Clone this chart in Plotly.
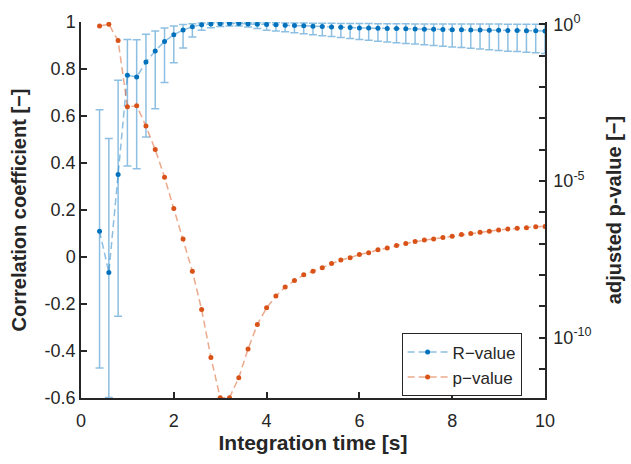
import numpy as np
import plotly.graph_objects as go

# Integration times [s]
t = [0.4, 0.6, 0.8, 1.0, 1.2, 1.4, 1.6, 1.8, 2.0, 2.2, 2.4, 2.6, 2.8, 3.0, 3.2, 3.4,
     3.6, 3.8, 4.0, 4.2, 4.4, 4.6, 4.8, 5.0, 5.2, 5.4, 5.6, 5.8, 6.0, 6.2, 6.4, 6.6,
     6.8, 7.0, 7.2, 7.4, 7.6, 7.8, 8.0, 8.2, 8.4, 8.6, 8.8, 9.0, 9.2, 9.4, 9.6, 9.8, 10.0]

# Correlation coefficient and its confidence bounds
r_value = [0.110, -0.066, 0.351, 0.773, 0.766, 0.830, 0.877, 0.917, 0.946, 0.966, 0.980,
           0.988, 0.991, 0.993, 0.994, 0.994, 0.992, 0.990, 0.989, 0.988, 0.986, 0.985,
           0.984, 0.982, 0.981, 0.979, 0.978, 0.977, 0.975, 0.974, 0.973, 0.972, 0.972,
           0.971, 0.970, 0.969, 0.969, 0.968, 0.967, 0.967, 0.966, 0.966, 0.965, 0.965,
           0.964, 0.964, 0.963, 0.963, 0.962]
r_upper = [0.627, 0.504, 0.752, 0.926, 0.925, 0.948, 0.962, 0.974, 0.983, 0.989, 0.993,
           0.996, 0.997, 0.998, 0.998, 0.998, 0.998, 0.997, 0.997, 0.997, 0.996, 0.996,
           0.996, 0.995, 0.995, 0.995, 0.994, 0.994, 0.994, 0.994, 0.993, 0.993, 0.993,
           0.993, 0.992, 0.992, 0.992, 0.992, 0.992, 0.991, 0.991, 0.991, 0.991, 0.991,
           0.990, 0.990, 0.990, 0.990, 0.990]
r_lower = [-0.472, -0.598, -0.252, 0.387, 0.376, 0.511, 0.631, 0.743, 0.827, 0.889, 0.936,
           0.965, 0.976, 0.981, 0.983, 0.983, 0.979, 0.972, 0.965, 0.962, 0.958, 0.954,
           0.950, 0.946, 0.942, 0.938, 0.934, 0.930, 0.926, 0.922, 0.918, 0.915, 0.912,
           0.909, 0.906, 0.903, 0.900, 0.897, 0.894, 0.891, 0.888, 0.885, 0.882, 0.879,
           0.876, 0.874, 0.871, 0.869, 0.866]

# Adjusted p-values
p_value = [0.88, 0.99, 0.30, 2.3e-3, 2.5e-3, 5.6e-4, 1.0e-4, 1.3e-5, 1.3e-6, 1.4e-7, 1.3e-8,
           7.8e-10, 2.3e-11, 1.2e-12, 1.2e-12, 5.2e-12, 4.3e-11, 2.6e-10, 8.9e-10, 2.1e-9,
           4.1e-9, 6.6e-9, 1.0e-8, 1.3e-8, 1.7e-8, 2.3e-8, 3.0e-8, 3.5e-8, 4.5e-8, 5.1e-8,
           6.3e-8, 7.2e-8, 8.7e-8, 1.0e-7, 1.15e-7, 1.3e-7, 1.4e-7, 1.55e-7, 1.7e-7, 1.95e-7,
           2.1e-7, 2.3e-7, 2.45e-7, 2.7e-7, 2.9e-7, 3.1e-7, 3.2e-7, 3.4e-7, 3.5e-7]

# Axis ticks
x_ticks = [0, 2, 4, 6, 8, 10]
r_ticks = [-0.6, -0.4, -0.2, 0, 0.2, 0.4, 0.6, 0.8, 1]
r_tick_text = ["-0.6", "-0.4", "-0.2", "0", "0.2", "0.4", "0.6", "0.8", "1"]
p_decades = list(range(-11, 1))
p_labels = {0: "10<sup>0</sup>", -5: "10<sup>-5</sup>", -10: "10<sup>-10</sup>"}

BLUE = "#0072BD"
BLUE_LIGHT = "rgba(0,114,189,0.45)"
RED = "#D95319"
RED_LIGHT = "rgba(217,83,25,0.5)"
INK = "#262626"
FONT = "Liberation Sans"

r = np.array(r_value)
err_plus = np.array(r_upper) - r
err_minus = r - np.array(r_lower)

fig = go.Figure()

fig.add_trace(go.Scatter(
    x=t, y=r_value, name="R\u2212value", mode="lines+markers",
    line=dict(color=BLUE_LIGHT, width=1.5, dash="7px,4px"),
    marker=dict(color=BLUE, size=5),
    error_y=dict(type="data", symmetric=False, array=err_plus, arrayminus=err_minus,
                 color=BLUE_LIGHT, thickness=1.5, width=4),
    yaxis="y",
))

fig.add_trace(go.Scatter(
    x=t, y=p_value, name="p\u2212value", mode="lines+markers",
    line=dict(color=RED_LIGHT, width=1.5, dash="7px,4px"),
    marker=dict(color=RED, size=5),
    yaxis="y2",
))

axis_common = dict(
    showline=True, linecolor=INK, linewidth=1.5, ticks="inside", ticklen=6,
    tickwidth=1.5, tickcolor=INK, showgrid=False, zeroline=False, mirror=False,
    tickfont=dict(family=FONT, size=18, color=INK), automargin=False,
)

fig.update_layout(
    width=631, height=464,
    margin=dict(l=81, r=86, t=22, b=66),
    paper_bgcolor="white", plot_bgcolor="white",
    font=dict(family=FONT, size=18, color=INK),
    xaxis=dict(
        range=[0, 10], tickvals=x_ticks, ticklabelstandoff=6,
        title=dict(text="<b>Integration time [s]</b>", font=dict(size=21), standoff=4),
        **axis_common,
    ),
    yaxis=dict(
        range=[-0.6, 1.0], tickvals=r_ticks, ticktext=r_tick_text,
        title=dict(text="<b>Correlation coefficient [\u2212]</b>", font=dict(size=20), standoff=13),
        **axis_common,
    ),
    yaxis2=dict(
        type="log", range=[-11.93, 0.07], overlaying="y", side="right",
        tickvals=[10.0 ** d for d in p_decades],
        ticktext=[p_labels.get(d, "") for d in p_decades],
        ticklabelstandoff=3,
        title=dict(text="<b>adjusted p-value [\u2212]</b>", font=dict(size=20), standoff=16),
        **axis_common,
    ),
    legend=dict(
        x=0.691, y=0.172, xanchor="left", yanchor="top",
        bgcolor="white", bordercolor=INK, borderwidth=1,
        font=dict(family=FONT, size=17, color=INK),
        itemwidth=40, tracegroupgap=0,
    ),
    showlegend=True,
)

fig.write_html("out.html")
